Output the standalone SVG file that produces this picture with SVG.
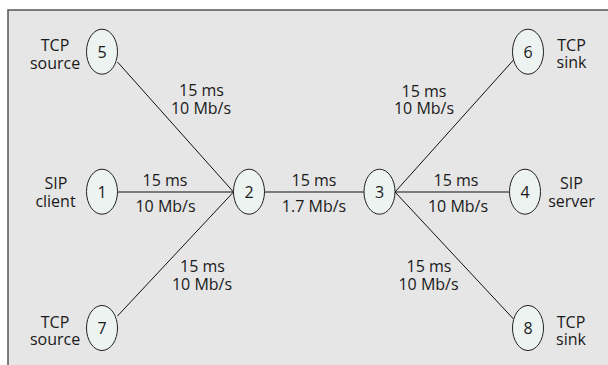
<svg xmlns="http://www.w3.org/2000/svg" width="608" height="365" viewBox="0 0 608 365">
  <defs>
    <style>
      .frame { fill: #e6e6e6; }
      .border { fill: none; stroke: #555; stroke-width: 1.5; }
      .node ellipse { fill: #ecf3f1; stroke: #222; stroke-width: 1; }
      .link { stroke: #111; stroke-width: 1; fill: none; }
      text { font-family: "Open Sans", "Noto Sans", "DejaVu Sans", sans-serif; font-size: 16px; fill: #1a1a1a; text-anchor: middle; }
    </style>
  </defs>

  <!-- panel background with top/left rule -->
  <rect class="frame" x="8" y="10" width="600" height="355"/>
  <polyline class="border" points="8,365 8,10 608,10"/>

  <!-- connectors -->
  <g id="connectors">
    <line class="link" x1="117.5" y1="62" x2="233.5" y2="192"/>
    <line class="link" x1="117.5" y1="192" x2="233.5" y2="192"/>
    <line class="link" x1="117.5" y1="316" x2="233.5" y2="192"/>
    <line class="link" x1="264.5" y1="192" x2="364" y2="192"/>
    <line class="link" x1="395" y1="192" x2="513.5" y2="60"/>
    <line class="link" x1="395" y1="192" x2="509.5" y2="192"/>
    <line class="link" x1="395" y1="192" x2="513.5" y2="319"/>

    <text x="201.5" y="96">15 ms</text>
    <text x="201" y="113.5">10 Mb/s</text>

    <text x="165" y="186">15 ms</text>
    <text x="165.5" y="211.5">10 Mb/s</text>

    <text x="202.5" y="272">15 ms</text>
    <text x="202" y="289.5">10 Mb/s</text>

    <text x="314" y="186">15 ms</text>
    <text x="314" y="211.5">1.7 Mb/s</text>

    <text x="424" y="96.5">15 ms</text>
    <text x="424" y="114">10 Mb/s</text>

    <text x="456" y="186">15 ms</text>
    <text x="458" y="211.5">10 Mb/s</text>

    <text x="429" y="272">15 ms</text>
    <text x="428.5" y="290">10 Mb/s</text>
  </g>

  <g id="node-5" class="node">
    <ellipse cx="102" cy="51.7" rx="15.5" ry="22.5"/>
    <text x="102" y="57.7">5</text>
    <text x="55" y="51">TCP</text>
    <text x="55" y="68.5">source</text>
  </g>

  <g id="node-1" class="node">
    <ellipse cx="102" cy="191.7" rx="15.5" ry="22.5"/>
    <text x="102" y="197.7">1</text>
    <text x="56" y="189">SIP</text>
    <text x="55.5" y="206.5">client</text>
  </g>

  <g id="node-7" class="node">
    <ellipse cx="102" cy="328" rx="15.5" ry="22.5"/>
    <text x="102" y="334">7</text>
    <text x="55" y="327.5">TCP</text>
    <text x="55" y="345">source</text>
  </g>

  <g id="node-2" class="node">
    <ellipse cx="249" cy="191.7" rx="15.5" ry="22.5"/>
    <text x="249" y="197.7">2</text>
  </g>

  <g id="node-3" class="node">
    <ellipse cx="379.5" cy="191.7" rx="15.5" ry="22.5"/>
    <text x="379.5" y="197.7">3</text>
  </g>

  <g id="node-6" class="node">
    <ellipse cx="528" cy="51.7" rx="15.5" ry="22.5"/>
    <text x="528" y="57.7">6</text>
    <text x="571.5" y="50.5">TCP</text>
    <text x="571.5" y="67.5">sink</text>
  </g>

  <g id="node-4" class="node">
    <ellipse cx="525" cy="191.7" rx="15.5" ry="22.5"/>
    <text x="525" y="197.7">4</text>
    <text x="571.5" y="189">SIP</text>
    <text x="571.5" y="206.5">server</text>
  </g>

  <g id="node-8" class="node">
    <ellipse cx="528" cy="328" rx="15.5" ry="22.5"/>
    <text x="528" y="334">8</text>
    <text x="571" y="327.5">TCP</text>
    <text x="571" y="344.5">sink</text>
  </g>
</svg>
